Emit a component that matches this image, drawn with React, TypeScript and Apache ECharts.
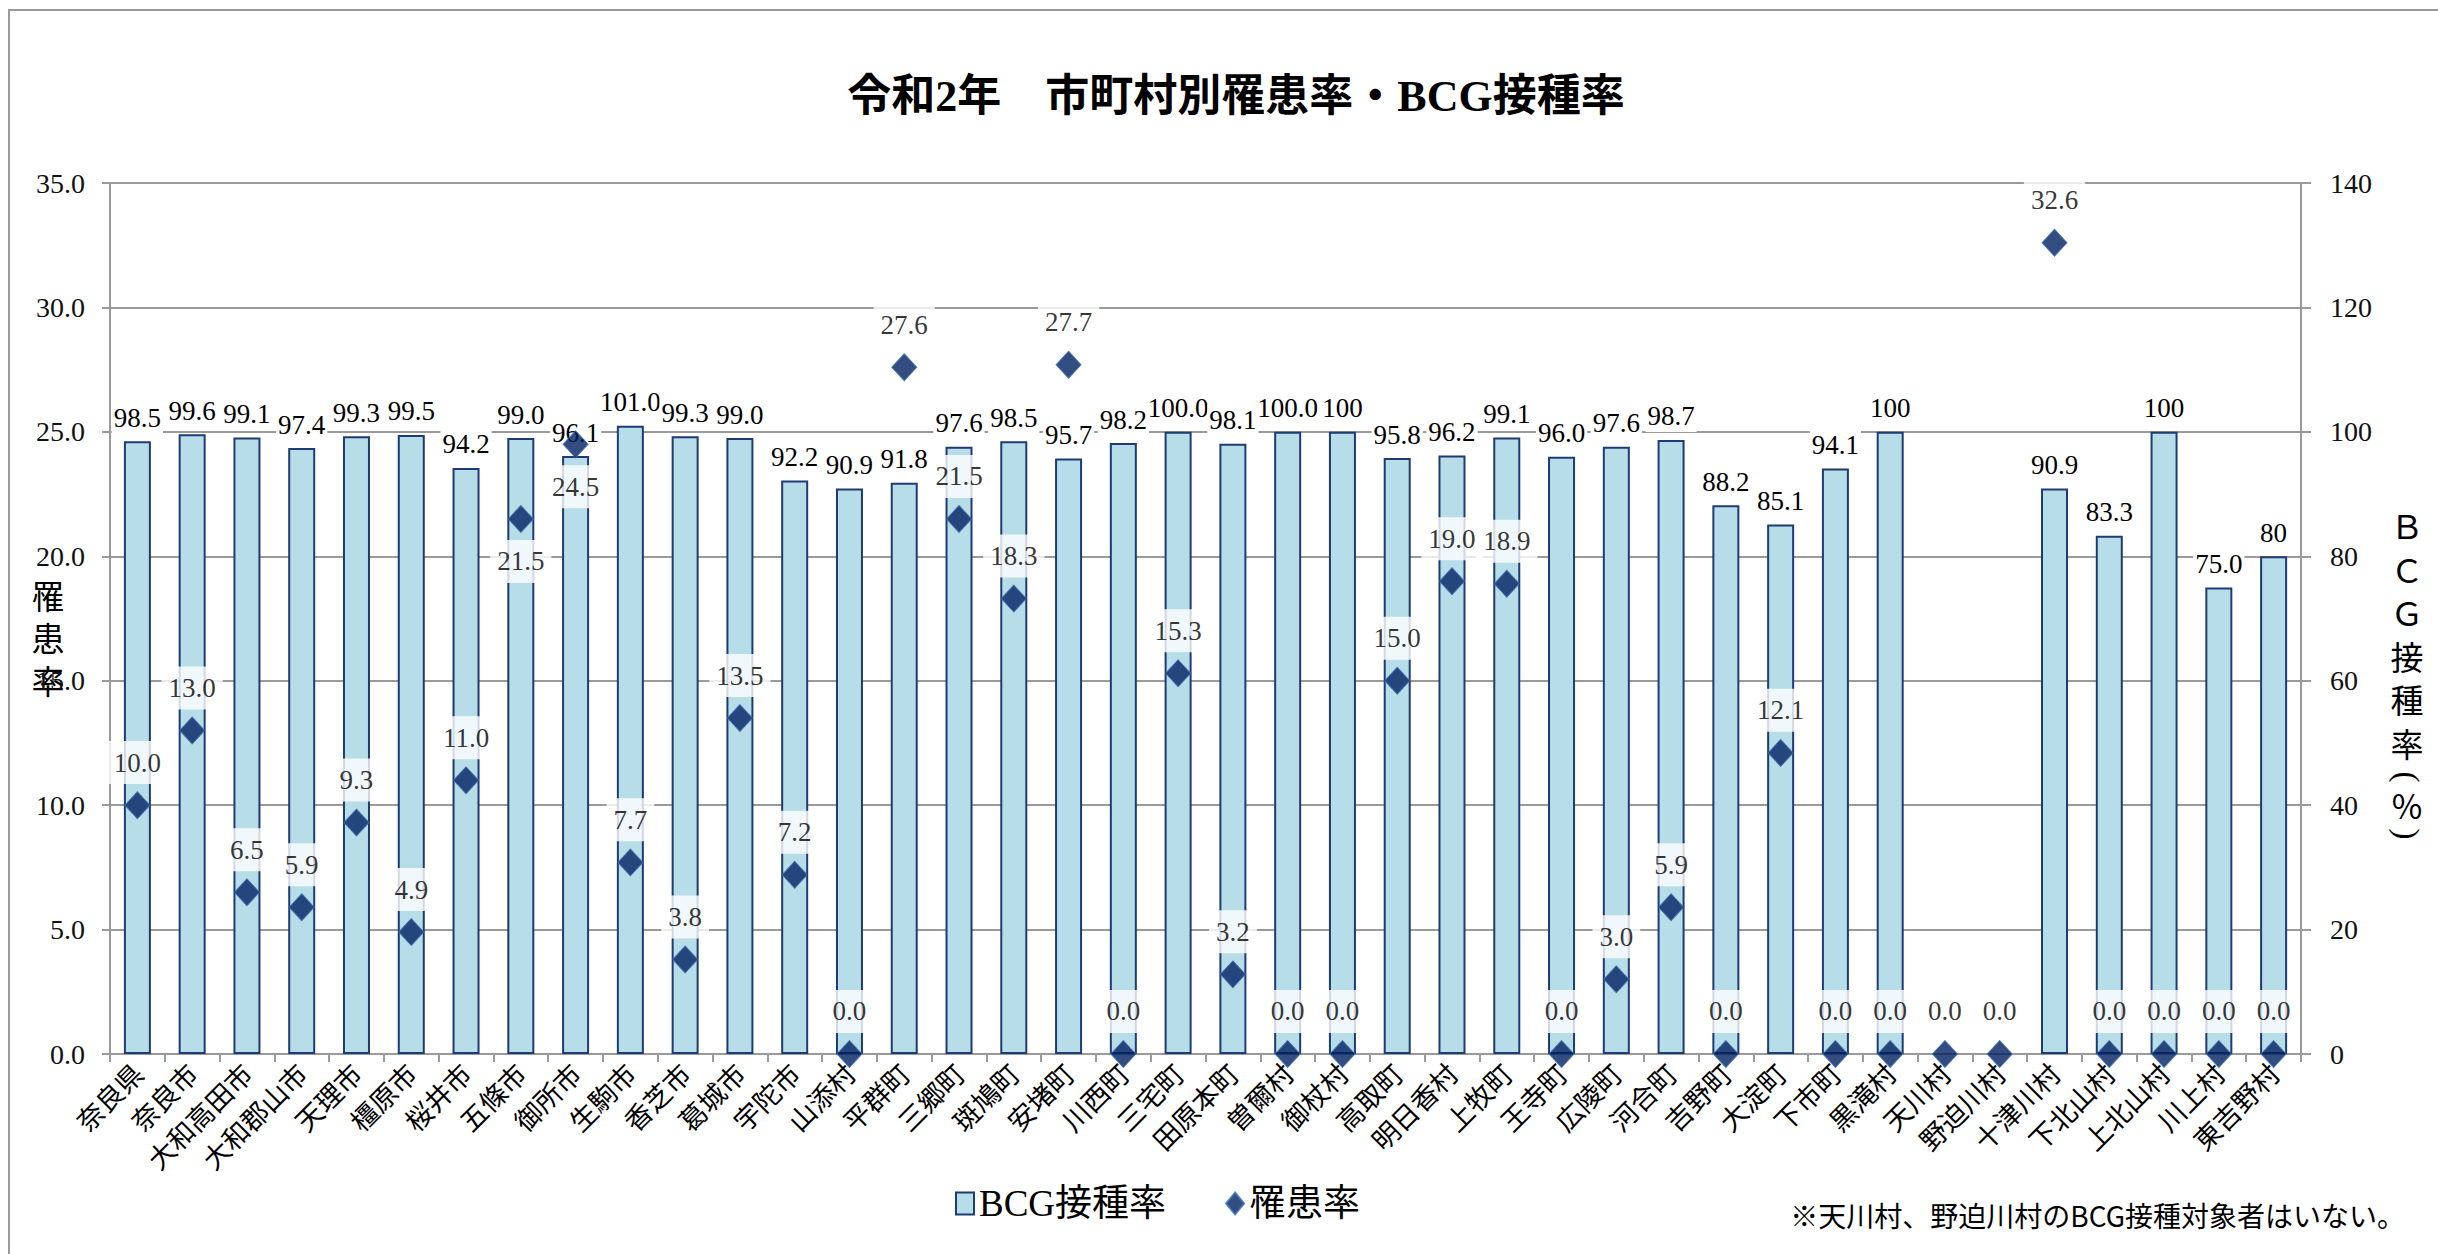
import React, { useEffect, useRef } from "react";
import * as echarts from "echarts";

const categories = [
  "奈良県", "奈良市", "大和高田市", "大和郡山市", "天理市", "橿原市", "桜井市", "五條市", "御所市", "生駒市",
  "香芝市", "葛城市", "宇陀市", "山添村", "平群町", "三郷町", "斑鳩町", "安堵町", "川西町", "三宅町",
  "田原本町", "曽爾村", "御杖村", "高取町", "明日香村", "上牧町", "王寺町", "広陵町", "河合町", "吉野町",
  "大淀町", "下市町", "黒滝村", "天川村", "野迫川村", "十津川村", "下北山村", "上北山村", "川上村", "東吉野村",
];

// BCG接種率 (%) as printed on the chart; null = 対象者なし
const bcgRateText: (string | null)[] = [
  "98.5", "99.6", "99.1", "97.4", "99.3", "99.5", "94.2", "99.0", "96.1", "101.0",
  "99.3", "99.0", "92.2", "90.9", "91.8", "97.6", "98.5", "95.7", "98.2", "100.0",
  "98.1", "100.0", "100", "95.8", "96.2", "99.1", "96.0", "97.6", "98.7", "88.2",
  "85.1", "94.1", "100", null, null, "90.9", "83.3", "100", "75.0", "80",
];

// 罹患率
const incidenceRate = [
  10.0, 13.0, 6.5, 5.9, 9.3, 4.9, 11.0, 21.5, 24.5, 7.7,
  3.8, 13.5, 7.2, 0.0, 27.6, 21.5, 18.3, 27.7, 0.0, 15.3,
  3.2, 0.0, 0.0, 15.0, 19.0, 18.9, 0.0, 3.0, 5.9, 0.0,
  12.1, 0.0, 0.0, 0.0, 0.0, 32.6, 0.0, 0.0, 0.0, 0.0,
];

// indices whose 罹患率 label sits below the marker
const labelBelowIdx = [7, 8];

export default function App() {
  const ref = useRef<HTMLDivElement>(null);
  useEffect(() => {
    document.body.style.margin = "0";
    document.body.style.overflow = "hidden";
    const chart = echarts.init(ref.current!, null, { renderer: "svg" });
    const serif = "'Liberation Serif', 'Noto Sans CJK JP', serif";
    const cjk = "'Noto Sans CJK JP', sans-serif";
    const bcgValues = bcgRateText.map((t) => (t === null ? null : parseFloat(t)));
    const grey = "#9a9a9a";
    const barFill = "#B7DDE8";
    const barBorder = "#1F3B73";

    chart.setOption({
      animation: false,
      backgroundColor: "#fff",
      grid: { left: 110, right: 137, top: 183, bottom: 200 },
      legend: {
        left: 950,
        top: 1180,
        itemWidth: 18,
        itemHeight: 22,
        itemGap: 59,
        textStyle: { fontSize: 37, fontFamily: serif, color: "#000" },
        data: [
          { name: "BCG接種率", icon: "rect", itemStyle: { color: barFill, borderColor: barBorder, borderWidth: 2 } },
          { name: "罹患率", icon: "diamond" },
        ],
      },
      xAxis: {
        type: "category",
        data: categories,
        axisLine: { show: true, lineStyle: { color: grey, width: 2 } },
        axisTick: { show: true, length: 8, lineStyle: { color: grey, width: 2 } },
        axisLabel: {
          interval: 0,
          rotate: 45,
          margin: 14,
          fontSize: 27,
          fontFamily: cjk,
          color: "#000",
        },
      },
      yAxis: [
        {
          type: "value",
          min: 0,
          max: 35,
          interval: 5,
          position: "left",
          axisLine: { show: true, lineStyle: { color: grey, width: 2 } },
          axisTick: { show: true, length: 8, lineStyle: { color: grey, width: 2 } },
          splitLine: { show: true, lineStyle: { color: grey, width: 2 } },
          axisLabel: {
            margin: 25,
            fontSize: 28,
            fontFamily: serif,
            color: "#111",
            formatter: (v: number) => v.toFixed(1),
          },
        },
        {
          type: "value",
          min: 0,
          max: 140,
          interval: 20,
          position: "right",
          axisLine: { show: true, lineStyle: { color: grey, width: 2 } },
          axisTick: { show: true, length: 10, lineStyle: { color: grey, width: 2 } },
          splitLine: { show: false },
          axisLabel: { margin: 29, fontSize: 28, fontFamily: serif, color: "#111" },
        },
      ],
      series: [
        {
          name: "BCG接種率",
          type: "bar",
          yAxisIndex: 1,
          data: bcgValues,
          barWidth: 27,
          z: 2,
          itemStyle: { color: barFill, borderColor: barBorder, borderWidth: 2 },
          label: {
            show: true,
            position: "top",
            distance: 8,
            formatter: (p: any) => bcgRateText[p.dataIndex] ?? "",
            fontSize: 27,
            fontFamily: serif,
            color: "#000",
            backgroundColor: "#fff",
            padding: [2, 2],
          },
        },
        {
          name: "罹患率",
          type: "scatter",
          yAxisIndex: 0,
          clip: false,
          z: 3,
          symbol: "diamond",
          symbolSize: [25, 27],
          data: incidenceRate.map((v, i) =>
            labelBelowIdx.includes(i) ? { value: v, label: { position: "bottom" } } : v
          ),
          itemStyle: { color: "#002060", borderColor: "#3B6DB3", borderWidth: 1 },
          label: {
            show: true,
            position: "top",
            distance: 7,
            formatter: (p: any) => Number(p.value).toFixed(1),
            fontSize: 27,
            fontFamily: serif,
            color: "#000",
            backgroundColor: "#fff",
            padding: [8, 7],
          },
        },
      ],
      graphic: [
        {
          type: "rect",
          silent: true,
          z: -10,
          shape: { x: 9, y: 10, width: 2460, height: 1280 },
          style: { fill: "none", stroke: "#9a9a9a", lineWidth: 2 },
        },
        {
          type: "text",
          x: 1236,
          y: 96,
          style: {
            text: "令和2年　市町村別罹患率・BCG接種率",
            fontSize: 44,
            fontWeight: "bold",
            fontFamily: serif,
            fill: "#000",
            align: "center",
            verticalAlign: "middle",
          },
        },
        {
          type: "text",
          x: 48,
          y: 637,
          style: {
            text: "罹\n患\n率",
            fontSize: 33,
            lineHeight: 42.5,
            fontFamily: cjk,
            fill: "#000",
            align: "center",
            verticalAlign: "middle",
          },
        },
        {
          type: "text",
          x: 2407,
          y: 634,
          style: {
            text: "Ｂ\nＣ\nＧ\n接\n種\n率",
            fontSize: 33,
            lineHeight: 43.5,
            fontFamily: cjk,
            fill: "#000",
            align: "center",
            verticalAlign: "middle",
          },
        },
        {
          type: "text",
          x: 2407,
          y: 777,
          rotation: -Math.PI / 2,
          style: { text: "(", fontSize: 33, fontFamily: serif, fill: "#000", align: "center", verticalAlign: "middle" },
        },
        {
          type: "text",
          x: 2407,
          y: 805,
          style: { text: "％", fontSize: 33, fontFamily: cjk, fill: "#000", align: "center", verticalAlign: "middle" },
        },
        {
          type: "text",
          x: 2407,
          y: 834,
          rotation: -Math.PI / 2,
          style: { text: ")", fontSize: 33, fontFamily: serif, fill: "#000", align: "center", verticalAlign: "middle" },
        },
        {
          type: "text",
          x: 2405,
          y: 1215,
          style: {
            text: "※天川村、野迫川村のBCG接種対象者はいない。",
            fontSize: 28,
            fontFamily: cjk,
            fill: "#000",
            align: "right",
            verticalAlign: "middle",
          },
        },
      ],
    });
    return () => chart.dispose();
  }, []);
  return <div ref={ref} style={{ position: "absolute", left: 0, top: 0, width: 2438, height: 1254 }} />;
}
